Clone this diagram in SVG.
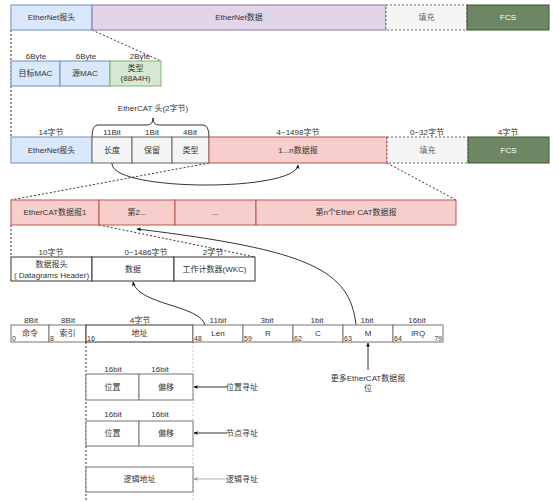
<svg xmlns="http://www.w3.org/2000/svg" width="559" height="502" viewBox="0 0 559 502">
<defs>
<style>
text{font-family:"Liberation Sans","Noto Sans CJK SC",sans-serif;font-size:8px;fill:#333;text-anchor:middle;dominant-baseline:central}
.sm{font-size:7px;text-anchor:start;dominant-baseline:auto}
.blue{fill:#dae8fc;stroke:#6c8ebf}
.purple{fill:#e1d5e7;stroke:#9673a6}
.pad{fill:#f5f5f5;stroke:#666;stroke-dasharray:2 2}
.fcs{fill:#6d8764;stroke:#3a5431}
.green{fill:#d5e8d4;stroke:#82b366}
.gray{fill:#f5f5f5;stroke:#666}
.red{fill:#f8cecc;stroke:#b85450}
.w{fill:#fff;stroke:#333}
.wg{fill:#fff;stroke:#777}
.dash{fill:none;stroke:#000;stroke-dasharray:2 2;stroke-width:0.8}
.line{fill:none;stroke:#000;stroke-width:0.8}
.wt{fill:#fff}
.gt{fill:#666}
</style>
<marker id="arr" viewBox="0 0 10 10" refX="9" refY="5" markerWidth="6" markerHeight="6" orient="auto-start-reverse"><path d="M0,1 L10,5 L0,9 L3,5 Z" fill="#000"/></marker>
<marker id="arrg" viewBox="0 0 10 10" refX="9" refY="5" markerWidth="6" markerHeight="6" orient="auto-start-reverse"><path d="M0,1 L10,5 L0,9 L3,5 Z" fill="#999"/></marker>
</defs>
<rect width="559" height="502" fill="#fff"/>

<g id="connectors">
<path class="dash" d="M92,30 L161,61"/>
<path class="dash" d="M11,30 L11,137"/>
<path class="dash" d="M209,163 L11,200"/>
<path class="dash" d="M387,163 L456,200"/>
<path class="dash" d="M11,225 L11,257"/>
<path class="dash" d="M99,225 L255,257"/>
<path class="dash" d="M86,342 L86,502"/>
<path class="dash" d="M193,342 L193,502" style="stroke:#bbb"/>
<path class="line" d="M92,137 Q92,125 98,125 L147,125 Q153,125 153,118 Q153,125 159,125 L203,125 Q209,125 209,137"/>
<path class="line" d="M112,163 C110,192 296,192 298,165" marker-end="url(#arr)"/>
<path class="line" d="M356,325 C350,270 310,250 137,229" marker-end="url(#arr)"/>
<path class="line" d="M205,325 C200,305 138,305 133,282" marker-end="url(#arr)"/>
<path class="line" d="M368,370 L368,343" marker-end="url(#arr)"/>
<path class="line" d="M227,387 L194,387" marker-end="url(#arr)"/>
<path class="line" d="M227,433 L194,433" marker-end="url(#arr)"/>
<path class="line" d="M227,479 L194,479" style="stroke:#999" marker-end="url(#arrg)"/>
</g>

<g id="row1">
<g id="eth-header"><rect class="blue" x="11" y="5" width="81" height="25"/><text x="51.5" y="17.5">EtherNet报头</text></g>
<g id="eth-data"><rect class="purple" x="92" y="5" width="294" height="25"/><text x="239" y="17.5">EtherNet数据</text></g>
<g id="pad1"><rect class="pad" x="386" y="5" width="81" height="25"/><text class="gt" x="426.5" y="17.5">填充</text></g>
<g id="fcs1"><rect class="fcs" x="467" y="5" width="82" height="25"/><text class="wt" x="508" y="17.5">FCS</text></g>
</g>

<g id="row2">
<text x="36" y="56">6Byte</text><text x="86" y="56">6Byte</text><text x="140" y="56">2Byte</text>
<g id="dst-mac"><rect class="blue" x="11" y="61" width="49" height="25"/><text x="35.5" y="73.5">目标MAC</text></g>
<g id="src-mac"><rect class="blue" x="60" y="61" width="50" height="25"/><text x="85" y="73.5">源MAC</text></g>
<g id="type"><rect class="green" x="110" y="61" width="51" height="25"/><text x="135.5" y="68.5">类型</text><text x="135.5" y="78.5">(88A4H)</text></g>
</g>

<g id="row3">
<text x="153" y="108">EtherCAT 头(2字节)</text>
<text x="51" y="132">14字节</text><text x="112" y="132">11Bit</text><text x="152" y="132">1Bit</text><text x="190" y="132">4Bit</text>
<text x="298" y="132">4~1498字节</text><text x="427" y="132">0~32字节</text><text x="508" y="132">4字节</text>
<g id="eth-header2"><rect class="blue" x="11" y="137" width="81" height="26"/><text x="51.5" y="150">EtherNet报头</text></g>
<g id="len"><rect class="gray" x="92" y="137" width="40" height="26"/><text x="112" y="150">长度</text></g>
<g id="reserved"><rect class="gray" x="132" y="137" width="40" height="26"/><text x="152" y="150">保留</text></g>
<g id="type2"><rect class="gray" x="172" y="137" width="37" height="26"/><text x="190.5" y="150">类型</text></g>
<g id="datagrams"><rect class="red" x="209" y="137" width="178" height="26"/><text x="298" y="150">1...n数据报</text></g>
<g id="pad2"><rect class="pad" x="387" y="137" width="81" height="26"/><text class="gt" x="427.5" y="150">填充</text></g>
<g id="fcs2"><rect class="fcs" x="468" y="137" width="81" height="26"/><text class="wt" x="508.5" y="150">FCS</text></g>
</g>

<g id="row4">
<g id="dg1"><rect class="red" x="11" y="200" width="88" height="25"/><text x="55" y="212.5">EtherCAT数据报1</text></g>
<g id="dg2"><rect class="red" x="99" y="200" width="76" height="25"/><text x="137" y="212.5">第2...</text></g>
<g id="dgdots"><rect class="red" x="175" y="200" width="81" height="25"/><text x="215.5" y="212.5">...</text></g>
<g id="dgn"><rect class="red" x="256" y="200" width="200" height="25"/><text x="356" y="212.5">第n个Ether CAT数据报</text></g>
</g>

<g id="row5">
<text x="51" y="252">10字节</text><text x="146" y="252">0~1486字节</text><text x="213" y="252">2字节</text>
<g id="dg-header"><rect class="w" x="11" y="257" width="81" height="24"/><text x="51.5" y="264">数据报头</text><text x="51.5" y="275">( Datagrams Header)</text></g>
<g id="data"><rect class="w" x="92" y="257" width="82" height="24"/><text x="133" y="269">数据</text></g>
<g id="wkc"><rect class="w" x="174" y="257" width="81" height="24"/><text x="214.5" y="269">工作计数器(WKC)</text></g>
</g>

<g id="row6">
<text x="31" y="320">8Bit</text><text x="68" y="320">8Bit</text><text x="140" y="320">4字节</text><text x="218" y="320">11bit</text>
<text x="267" y="320">3bit</text><text x="317" y="320">1bit</text><text x="367" y="320">1bit</text><text x="417" y="320">16bit</text>
<g id="cmd"><rect class="wg" x="11" y="325" width="38" height="17"/><text x="30" y="333">命令</text><text class="sm" x="12" y="341">0</text></g>
<g id="idx"><rect class="wg" x="49" y="325" width="37" height="17"/><text x="67.5" y="333">索引</text><text class="sm" x="50" y="341">8</text></g>
<g id="addr"><rect class="w" x="86" y="325" width="107" height="17"/><text x="139.5" y="333">地址</text><text class="sm" x="87" y="341">16</text></g>
<g id="lenf"><rect class="wg" x="193" y="325" width="50" height="17"/><text x="218" y="333">Len</text><text class="sm" x="194" y="341">48</text></g>
<g id="r"><rect class="wg" x="243" y="325" width="50" height="17"/><text x="268" y="333">R</text><text class="sm" x="244" y="341">59</text></g>
<g id="c"><rect class="wg" x="293" y="325" width="50" height="17"/><text x="318" y="333">C</text><text class="sm" x="294" y="341">62</text></g>
<g id="m"><rect class="wg" x="343" y="325" width="50" height="17"/><text x="368" y="333">M</text><text class="sm" x="344" y="341">63</text></g>
<g id="irq"><rect class="wg" x="393" y="325" width="50" height="17"/><text x="418" y="333">IRQ</text><text class="sm" x="394" y="341">64</text><text class="sm" x="442" y="341" style="text-anchor:end">79</text></g>
</g>

<g id="more-label"><text x="368" y="378">更多EtherCAT数据报</text><text x="368" y="388">位</text></g>

<g id="pos-addr">
<text x="113" y="369">16bit</text><text x="160" y="369">16bit</text>
<rect class="wg" x="86" y="374" width="53" height="26"/><text x="112.5" y="387">位置</text>
<rect class="wg" x="139" y="374" width="54" height="26"/><text x="166" y="387">偏移</text>
<text x="242" y="387">位置寻址</text>
</g>
<g id="node-addr">
<text x="113" y="414">16bit</text><text x="160" y="414">16bit</text>
<rect class="wg" x="86" y="421" width="53" height="25"/><text x="112.5" y="433.5">位置</text>
<rect class="wg" x="139" y="421" width="54" height="25"/><text x="166" y="433.5">偏移</text>
<text x="242" y="433">节点寻址</text>
</g>
<g id="log-addr">
<rect class="wg" x="86" y="467" width="107" height="25"/><text x="139.5" y="479.5">逻辑地址</text>
<text x="242" y="479">逻辑寻址</text>
</g>
</svg>
